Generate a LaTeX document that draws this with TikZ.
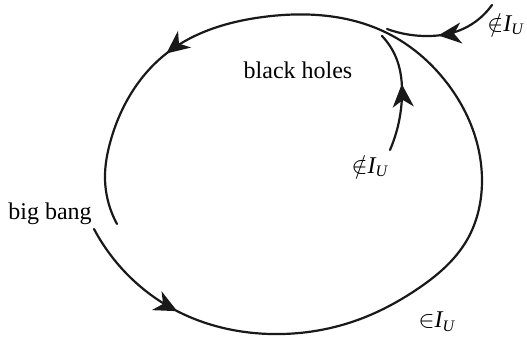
\documentclass[tikz,border=0pt]{standalone}
\usepackage{fontspec}
\setmainfont{Liberation Serif}
\usetikzlibrary{arrows.meta,decorations.markings,hobby}

\begin{document}
\begin{tikzpicture}[
x=0.5pt, y=-0.5pt,
lbl/.style={font=\fontsize{12}{14}\selectfont, inner sep=0pt},
world/.style={line width=1.1pt, line cap=round, black!90},
tipat/.style={postaction={decorate, decoration={markings, mark=at position #1 with {\arrow{Stealth[length=11.5pt,width=10.5pt,inset=3.5pt]}}}}}
]
\useasboundingbox (0,0) rectangle (527,340);

% the cycle of the universe
\draw[world, use Hobby shortcut, tipat=0.107, tipat=0.828]
 (94,229) .. (133,280) .. (175,310) .. (270,334) .. (363,318) .. (416,290)
 .. (467,240) .. (482,180) .. (475,136) .. (447,83) .. (387,33) .. (263,17)
 .. (167,53) .. (110,143) .. (105,175) .. (117,224);

% what falls in from outside
\draw[world, use Hobby shortcut, tipat=0.55]
 (492,5) .. (458,31) .. (430,36) .. (387,29);
\draw[world, use Hobby shortcut, tipat=0.56]
 (390,150) .. (402,95) .. (397,60) .. (382,36);

% labels
\node[lbl] (holes) at (298,70) {black holes};
\node[lbl] (bigbang) at (50,214) {big bang};
\node[lbl, anchor=west] (outer) at (487,24) {${\notin}\mathit{I}_{\mathit{U}}$};
\node[lbl] (inner) at (370,166) {${\notin}\mathit{I}_{\mathit{U}}$};
\node[lbl] (inside) at (437,322) {${\in}\mathit{I}_{\mathit{U}}$};
\end{tikzpicture}
\end{document}
